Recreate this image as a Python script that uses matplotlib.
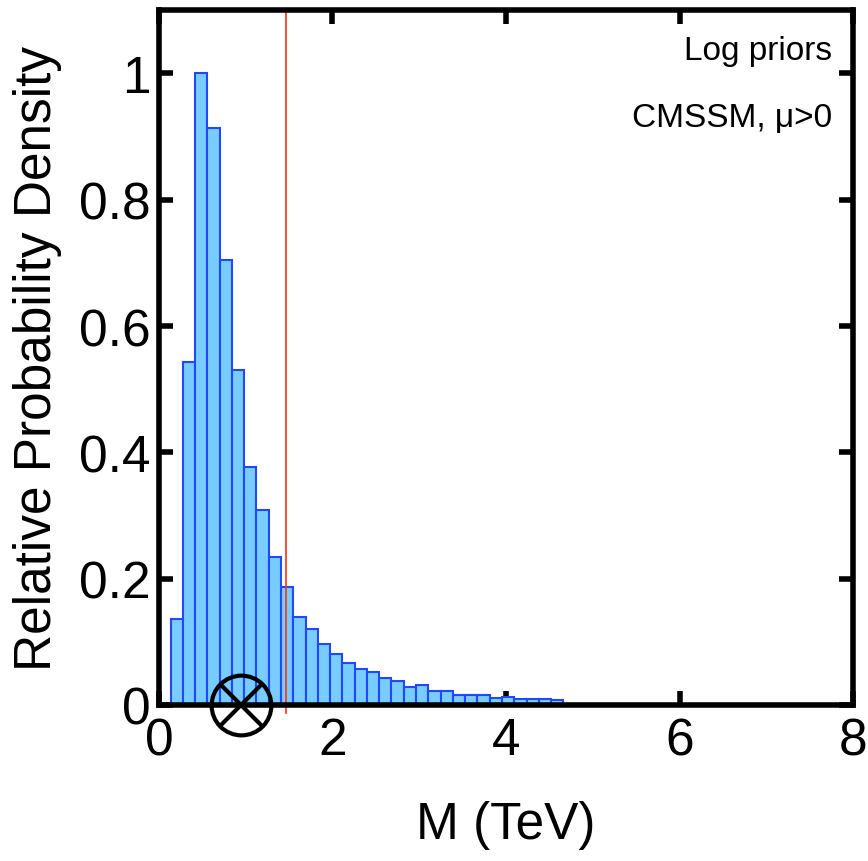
import matplotlib
matplotlib.use("Agg")
import matplotlib.pyplot as plt
import numpy as np

plt.rcParams["font.family"] = ["Liberation Sans", "DejaVu Sans"]

# Histogram of M (TeV), relative probability density
BIN_LO = 0.135
BIN_HI = 4.66
HEIGHTS = [0.136, 0.543, 1.0, 0.914, 0.705, 0.53, 0.377, 0.309, 0.235, 0.186,
           0.140, 0.121, 0.0965, 0.081, 0.066, 0.0565, 0.053, 0.043, 0.0375,
           0.028, 0.032, 0.0217, 0.0217, 0.0158, 0.0158, 0.0158, 0.0116, 0.012,
           0.0095, 0.0095, 0.0095, 0.0074]
LIMIT_M = 1.47          # red vertical line
BEST_FIT_M = 0.95       # circle-cross marker
X_TICKS = [0, 2, 4, 6, 8]
Y_TICKS = [0, 0.2, 0.4, 0.6, 0.8, 1.0]
Y_TICK_LABELS = ["0", "0.2", "0.4", "0.6", "0.8", "1"]

fig = plt.figure(figsize=(8.68, 8.62), dpi=100)
ax = fig.add_axes([0.183, 0.181, 0.8, 0.806])

edges = np.linspace(BIN_LO, BIN_HI, len(HEIGHTS) + 1)
ax.bar(edges[:-1], HEIGHTS, width=np.diff(edges), align="edge",
       facecolor="#78CCFF", edgecolor="#2048FF", linewidth=1.5, zorder=2)

ax.plot([LIMIT_M, LIMIT_M], [-0.012, 1.1], color="#FF3010", linewidth=1.2,
        clip_on=False, zorder=3)

ax.plot([BEST_FIT_M], [0], marker="o", markersize=43, fillstyle="none",
        markeredgecolor="black", markeredgewidth=3, clip_on=False, zorder=5)
ax.plot([BEST_FIT_M], [0], marker="x", markersize=30,
        markeredgecolor="black", markeredgewidth=3, clip_on=False, zorder=5)

ax.set_xlim(0, 8)
ax.set_ylim(0, 1.1)
ax.set_xticks(X_TICKS)
ax.set_yticks(Y_TICKS)
ax.set_yticklabels(Y_TICK_LABELS)
ax.tick_params(direction="in", length=10, width=4, labelsize=37,
               top=True, right=True)
ax.tick_params(axis="x", pad=8)
ax.tick_params(axis="y", pad=6)
for s in ax.spines.values():
    s.set_linewidth(4)
    s.set_zorder(4)

ax.set_xlabel("M (TeV)", fontsize=37, labelpad=25)
ax.set_ylabel("Relative Probability Density", fontsize=37, labelpad=12)

ax.text(0.97, 0.93, "Log priors", transform=ax.transAxes, ha="right",
        va="baseline", fontsize=24)
ax.text(0.97, 0.833, "CMSSM, \u03bc>0", transform=ax.transAxes, ha="right",
        va="baseline", fontsize=24)

fig.savefig("out.png", dpi=100)
